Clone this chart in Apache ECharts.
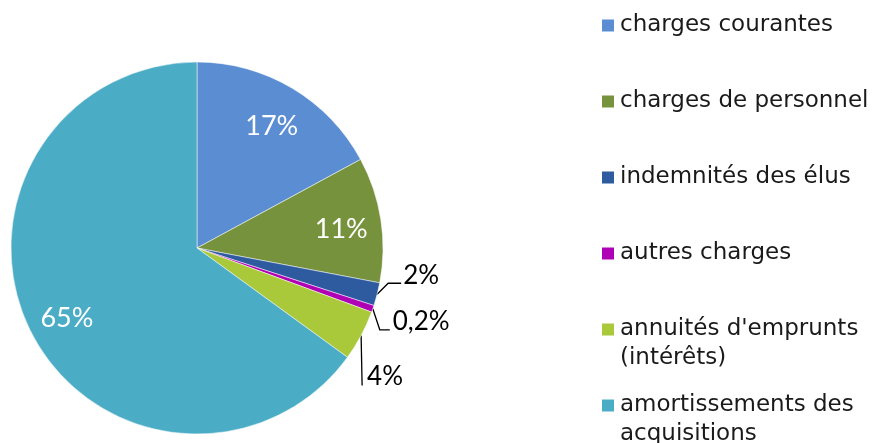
<!DOCTYPE html>
<html>
<head>
<meta charset="utf-8">
<script src="https://cdn.jsdelivr.net/npm/echarts@6/dist/echarts.min.js"></script>
<style>
  html, body { margin: 0; padding: 0; background: #fff; }
  #chart { width: 874px; height: 443px; }
</style>
</head>
<body>
<div id="chart"></div>
<script>
const categories = ['charges courantes', 'charges de personnel', 'indemnités des élus', 'autres charges', "annuités d'emprunts", 'amortissements des'];
const legendLabels = ['charges courantes', 'charges de personnel', 'indemnités des élus', 'autres charges', "annuités d'emprunts\n(intérêts)", 'amortissements des\nacquisitions'];
const values = [17.1, 10.9, 2.0, 0.6, 4.4, 65.0];
const pctLabels = ['17%', '11%', '2%', '0,2%', '4%', '65%'];
const colors = ['#5B8DD2', '#77923C', '#2E5B9F', '#B000B6', '#A9C93B', '#4BACC6'];

const lineH = 29;
const chart = echarts.init(document.getElementById('chart'));

// leader line bends and label spots for the small slices, relative to where
// ECharts starts the label line on the slice edge
const leaderBend = {2: [[11, -11], [24, -11]], 3: [[7, 21], [17, 21]], 4: [[1, 50], [1, 50]]};
const labelAt = {2: [26, -19], 3: [20, 13], 4: [6, 41]};

const mainData = categories.map((c, i) => ({
    name: c,
    value: values[i],
    itemStyle: {color: colors[i]},
    label: {show: values[i] < 10},
    labelLine: {show: values[i] < 10}
}));
const innerData = categories.map((c, i) => ({
    name: c,
    value: values[i],
    label: {show: values[i] >= 10}
}));

// every legend entry is padded to three lines so the square sits on the first line
const legendText = (name) => {
    const t = legendLabels[categories.indexOf(name)];
    return t.includes('\n') ? '\n' + t : '\n' + t + '\n';
};

chart.setOption({
    animation: false,
    backgroundColor: '#fff',
    legend: {
        orient: 'vertical',
        left: 600,
        top: -18,
        height: 480,
        padding: 0,
        itemWidth: 14,
        itemHeight: 14,
        itemGap: -11,
        icon: 'rect',
        selectedMode: false,
        formatter: legendText,
        textStyle: {fontFamily: 'DejaVu Sans', fontSize: 23, color: '#1a1a1a', lineHeight: lineH},
        data: categories
    },
    series: [{
        type: 'pie',
        center: [197, 248],
        radius: [0, 186],
        startAngle: 90,
        clockwise: true,
        avoidLabelOverlap: false,
        emphasis: {disabled: true},
        itemStyle: {borderColor: '#fff', borderWidth: 0.5},
        label: {
            position: 'outside',
            formatter: (p) => pctLabels[p.dataIndex],
            fontFamily: 'Lato',
            fontSize: 26,
            color: '#000'
        },
        labelLine: {length: 12, length2: 10, lineStyle: {color: '#000', width: 1.3}},
        labelLayout: (params) => {
            const at = labelAt[params.dataIndex];
            if (!at || !params.labelLinePoints) return {};
            const p0 = params.labelLinePoints[0];
            const bend = leaderBend[params.dataIndex];
            return {
                x: p0[0] + at[0],
                y: p0[1] + at[1],
                align: 'left',
                verticalAlign: 'middle',
                hideOverlap: false,
                labelLinePoints: [p0.slice()].concat(bend.map((b) => [p0[0] + b[0], p0[1] + b[1]]))
            };
        },
        data: mainData
    }, {
        type: 'pie',
        center: [197, 248],
        radius: [100, 186],
        startAngle: 90,
        clockwise: true,
        silent: true,
        avoidLabelOverlap: false,
        emphasis: {disabled: true},
        itemStyle: {color: 'rgba(0,0,0,0)'},
        label: {
            position: 'inside',
            formatter: (p) => pctLabels[p.dataIndex],
            fontFamily: 'Lato',
            fontSize: 27,
            color: '#fff',
            offset: [0, 4]
        },
        labelLine: {show: false},
        data: innerData
    }]
});
</script>
</body>
</html>
